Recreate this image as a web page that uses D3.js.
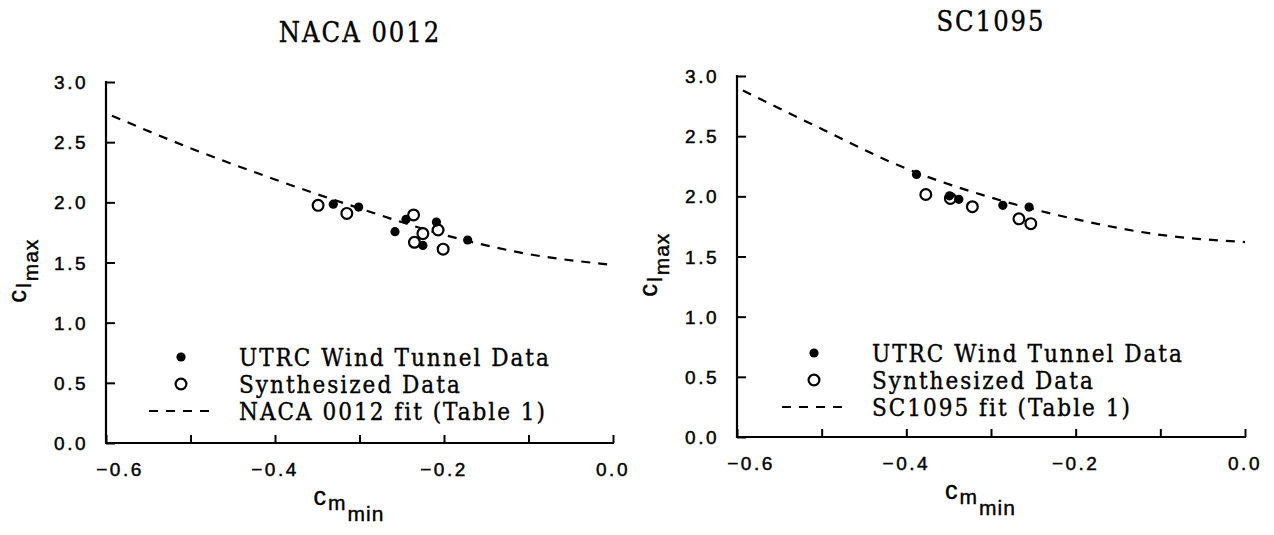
<!DOCTYPE html>
<html>
<head>
<meta charset="utf-8">
<script src="https://cdn.jsdelivr.net/npm/d3@7"></script>
<style>
  html, body { margin: 0; padding: 0; background: #fff; }
  svg { display: block; }
  .tick-label { font-family: "Liberation Sans", Arial, sans-serif; font-size: 19px; letter-spacing: 2.5px; fill: #000; stroke: #000; stroke-width: 0.45px; }
  .serif { font-family: "DejaVu Serif Condensed", "DejaVu Serif", serif; font-stretch: condensed; fill: #000; stroke: #000; stroke-width: 0.35px; }
  .axlab { font-family: "Liberation Sans", Arial, sans-serif; fill: #000; stroke: #000; stroke-width: 0.4px; letter-spacing: 1px; }
</style>
</head>
<body>
<svg id="chart" width="1274" height="535"></svg>
<script>
// ---------- Data ----------
const titles = ["NACA 0012", "SC1095"];
const fitLabels = ["NACA 0012 fit (Table 1)", "SC1095 fit (Table 1)"];
const legendLabels = ["UTRC Wind Tunnel Data", "Synthesized Data"];
const xTickValues = [-0.6, -0.5, -0.4, -0.3, -0.2, -0.1, 0.0];
const xTickLabels = ["-0.6", "-0.4", "-0.2", "0.0"];
const yTickValues = [0.0, 0.5, 1.0, 1.5, 2.0, 2.5, 3.0];

// NACA 0012
const nacaWindX = [-0.331, -0.301, -0.258, -0.245, -0.225, -0.209, -0.172];
const nacaWindY = [1.985, 1.961, 1.756, 1.858, 1.642, 1.836, 1.687];
const nacaSynX = [-0.349, -0.315, -0.236, -0.225, -0.235, -0.207, -0.201];
const nacaSynY = [1.975, 1.908, 1.895, 1.740, 1.668, 1.770, 1.611];
const nacaFitX = [-0.593, -0.5, -0.4, -0.3, -0.2, -0.1, 0.0];
const nacaFitY = [2.72, 2.45, 2.19, 1.95, 1.73, 1.57, 1.48];

// SC1095
const scWindX = [-0.388, -0.349, -0.338, -0.286, -0.255];
const scWindY = [2.182, 2.004, 1.975, 1.925, 1.911];
const scSynX = [-0.377, -0.348, -0.322, -0.267, -0.253];
const scSynY = [2.015, 1.983, 1.914, 1.813, 1.773];
const scFitX = [-0.593, -0.5, -0.4, -0.3, -0.2, -0.1, 0.0];
const scFitY = [2.88, 2.56, 2.23, 1.99, 1.81, 1.68, 1.62];

// ---------- Drawing ----------
const svg = d3.select("#chart");

const panels = [
  { title: titles[0], fit: fitLabels[0], left: 106, right: 613, top: 82, bottom: 443,
    titleX: 360, titleY: 42, legX: 181, legY: 357,
    wx: nacaWindX, wy: nacaWindY, sx: nacaSynX, sy: nacaSynY, fx: nacaFitX, fy: nacaFitY },
  { title: titles[1], fit: fitLabels[1], left: 737, right: 1245, top: 76, bottom: 437,
    titleX: 991, titleY: 31, legX: 814, legY: 353,
    wx: scWindX, wy: scWindY, sx: scSynX, sy: scSynY, fx: scFitX, fy: scFitY }
];

panels.forEach(p => {
  const g = svg.append("g");
  const x = d3.scaleLinear().domain([-0.6, 0]).range([p.left, p.right]);
  const y = d3.scaleLinear().domain([0, 3]).range([p.bottom, p.top]);

  // title
  g.append("text").attr("class", "serif")
    .attr("x", p.titleX).attr("y", p.titleY)
    .attr("text-anchor", "middle").attr("font-size", 27).attr("letter-spacing", 2)
    .text(p.title);

  // axes: left (ticks inward) and bottom (ticks inward)
  const yAxis = d3.axisRight(y).tickValues(yTickValues).tickSize(9).tickFormat("");
  const yg = g.append("g").attr("transform", `translate(${p.left},0)`).call(yAxis);
  const xAxis = d3.axisTop(x).tickValues(xTickValues).tickSize(8).tickFormat("");
  const xg = g.append("g").attr("transform", `translate(0,${p.bottom})`).call(xAxis);
  [yg, xg].forEach(a => {
    a.select(".domain").remove();
    a.selectAll("line").attr("stroke", "#000").attr("stroke-width", 2);
  });
  g.append("line").attr("x1", p.left).attr("x2", p.left).attr("y1", p.top - 1).attr("y2", p.bottom + 1)
    .attr("stroke", "#000").attr("stroke-width", 2.2);
  g.append("line").attr("x1", p.left - 1).attr("x2", p.right + 1).attr("y1", p.bottom).attr("y2", p.bottom)
    .attr("stroke", "#000").attr("stroke-width", 2.2);

  // tick labels
  g.selectAll(".ylab").data(yTickValues).enter().append("text")
    .attr("class", "tick-label")
    .attr("x", p.left - 18).attr("y", d => y(d) + 7)
    .attr("text-anchor", "end")
    .text(d => d.toFixed(1));
  g.selectAll(".xlab").data(xTickLabels).enter().append("text")
    .attr("class", "tick-label")
    .attr("x", (d, i) => x(+d) + (i === 0 ? 14 : 0)).attr("y", p.bottom + 33)
    .attr("text-anchor", "middle")
    .text(d => d.replace("-", "\u2212"));

  // axis titles
  const cx = (p.left + p.right) / 2;
  const xt = g.append("text").attr("class", "axlab").attr("x", cx - 46).attr("y", p.bottom + 62);
  xt.append("tspan").attr("font-size", 25).text("c");
  xt.append("tspan").attr("font-size", 21).attr("dy", 5).attr("dx", 1).text("m");
  xt.append("tspan").attr("font-size", 21).attr("dy", 11).attr("dx", 1).text("min");

  const cy = (p.top + p.bottom) / 2;
  const yt = g.append("text").attr("class", "axlab")
    .attr("transform", `translate(${p.left - 80},${cy + 40}) rotate(-90)`);
  yt.append("tspan").attr("font-size", 25).text("c");
  yt.append("tspan").attr("font-size", 21).attr("dy", 5).attr("dx", 1).text("l");
  yt.append("tspan").attr("font-size", 21).attr("dy", 7).attr("dx", 1).text("max");

  // fit curve
  const fitPts = p.fx.map((v, i) => [v, p.fy[i]]);
  g.append("path").datum(fitPts)
    .attr("d", d3.line().x(d => x(d[0])).y(d => y(d[1])).curve(d3.curveMonotoneX))
    .attr("fill", "none").attr("stroke", "#000").attr("stroke-width", 2.2)
    .attr("stroke-dasharray", "9,8");

  // synthesized (open)
  const syn = p.sx.map((v, i) => [v, p.sy[i]]);
  g.selectAll(".syn").data(syn).enter().append("circle")
    .attr("cx", d => x(d[0])).attr("cy", d => y(d[1])).attr("r", 5.4)
    .attr("fill", "#fff").attr("stroke", "#000").attr("stroke-width", 2.2);
  // wind tunnel (filled)
  const wind = p.wx.map((v, i) => [v, p.wy[i]]);
  g.selectAll(".wind").data(wind).enter().append("circle")
    .attr("cx", d => x(d[0])).attr("cy", d => y(d[1])).attr("r", 4.6)
    .attr("fill", "#000");

  // legend
  const lx = p.legX, ly = p.legY, step = 27;
  g.append("circle").attr("cx", lx).attr("cy", ly).attr("r", 4.6).attr("fill", "#000");
  g.append("circle").attr("cx", lx).attr("cy", ly + step).attr("r", 5.4)
    .attr("fill", "#fff").attr("stroke", "#000").attr("stroke-width", 2.2);
  g.append("line").attr("x1", lx - 32).attr("x2", lx + 31).attr("y1", ly + 2 * step).attr("y2", ly + 2 * step)
    .attr("stroke", "#000").attr("stroke-width", 2.2).attr("stroke-dasharray", "9,8");
  const texts = [legendLabels[0], legendLabels[1], p.fit];
  texts.forEach((t, i) => {
    g.append("text").attr("class", "serif")
      .attr("x", lx + 58).attr("y", ly + i * step + 9)
      .attr("font-size", 24).attr("letter-spacing", 2)
      .text(t);
  });
});
</script>
</body>
</html>
